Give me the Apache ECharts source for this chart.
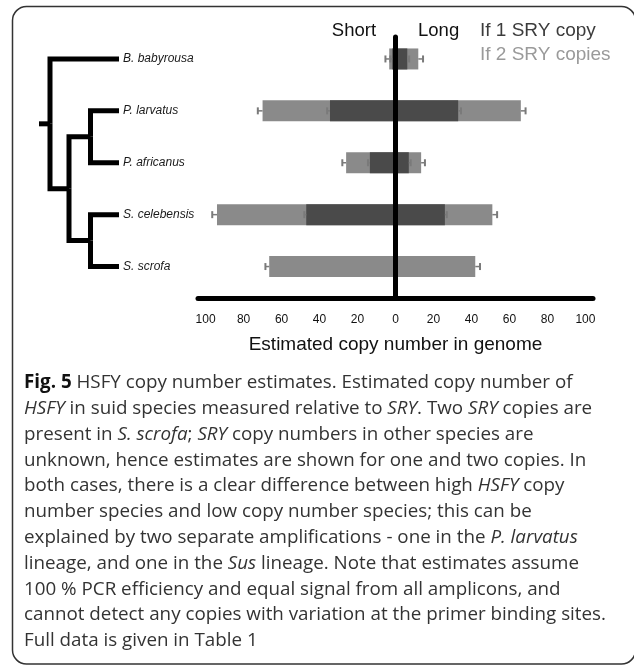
<!DOCTYPE html>
<html><head><meta charset="utf-8">
<script src="https://cdn.jsdelivr.net/npm/echarts@6/dist/echarts.min.js"></script>
<style>html,body{margin:0;padding:0;background:#fff}#c{width:634px;height:668px}</style>
</head><body><div id="c"></div>
<script>
// ---- data ----
const species = ['B. babyrousa', 'P. larvatus', 'P. africanus', 'S. celebensis', 'S. scrofa'];
const twoShort = [3.3, 70, 26, 94, 66.5];
const twoLong = [12, 66, 13.5, 51, 42];
const twoShortErr = [2, 2.5, 2, 2.5, 2];
const twoLongErr = [2.5, 2.5, 2, 2.5, 2.5];
const oneShort = [1.7, 34.5, 13.5, 47, null];
const oneLong = [6.2, 33, 7, 26, null];
const oneShortErr = [1, 1.5, 1, 1, null];
const oneLongErr = [1, 1.5, 1, 1, null];
const xTicks = [-100, -80, -60, -40, -20, 0, 20, 40, 60, 80, 100];
// cladogram: internal nodes, their branch positions, edges (numbers = leaf index)
const treeNodes = ['root', 'A', 'N2', 'NP', 'NS'];
const treeNodeX = [0, 1.1, 3, 5.15, 5.15];
const leafX = 8;
const treeEdges = [['root', 'A'], ['A', 0], ['A', 'N2'], ['N2', 'NP'], ['N2', 'NS'], ['NP', 1], ['NP', 2], ['NS', 3], ['NS', 4]];
const caption = [
  '{b|Fig. 5} HSFY copy number estimates. Estimated copy number of',
  '{i|HSFY} in suid species measured relative to {i|SRY}. Two {i|SRY} copies are',
  'present in {i|S. scrofa}; {i|SRY} copy numbers in other species are',
  'unknown, hence estimates are shown for one and two copies. In',
  'both cases, there is a clear difference between high {i|HSFY} copy',
  'number species and low copy number species; this can be',
  'explained by two separate amplifications - one in the {i|P. larvatus}',
  'lineage, and one in the {i|Sus} lineage. Note that estimates assume',
  '100 % PCR efficiency and equal signal from all amplicons, and',
  'cannot detect any copies with variation at the primer binding sites.',
  'Full data is given in Table 1'
];

// ---- helpers ----
function xOf(n) { return typeof n === 'number' ? leafX : treeNodeX[treeNodes.indexOf(n)]; }
function yOf(n) {
  if (typeof n === 'number') return n;
  const ch = treeEdges.filter(e => e[0] === n).map(e => yOf(e[1]));
  return ch.reduce((a, b) => a + b, 0) / ch.length;
}
const treeData = treeEdges.map(e => [xOf(e[0]), yOf(e[0]), xOf(e[1]), yOf(e[1])]);

const errData = [];
species.forEach((s, i) => {
  errData.push([-twoShort[i], -(twoShort[i] + twoShortErr[i]), i]);
  errData.push([twoLong[i], twoLong[i] + twoLongErr[i], i]);
  if (oneShort[i] != null) {
    errData.push([-oneShort[i], -(oneShort[i] + oneShortErr[i]), i]);
    errData.push([oneLong[i], oneLong[i] + oneLongErr[i], i]);
  }
});

const SANS = 'Liberation Sans, Arial, Helvetica, sans-serif';
const CAP = '"Open Sans", "Noto Sans", sans-serif';
const CAPSIZE = 18.8;
const LIGHT = '#8a8a8a', DARK = '#4a4a4a', ERR = '#7a7a7a';

const chart = echarts.init(document.getElementById('c'), null, { renderer: 'canvas' });
const barCommon = { type: 'bar', xAxisIndex: 0, yAxisIndex: 0, barWidth: 21, barGap: '-100%', silent: true };

chart.setOption({
  animation: false,
  grid: [
    { left: 198, right: 41, top: 33, bottom: 375.5 },
    { left: 39, right: 515, top: 33, bottom: 375.5 },
    { left: 198, right: 41, top: 37, bottom: 369.5 }
  ],
  xAxis: [
    { gridIndex: 0, type: 'value', min: -104, max: 104, show: false },
    { gridIndex: 1, type: 'value', min: 0, max: leafX, show: false },
    {
      gridIndex: 2, type: 'value', min: -104, max: 104, z: 10,
      axisLine: { show: true, onZero: false, lineStyle: { color: '#000', width: 5 } },
      axisTick: { show: false }, splitLine: { show: false },
      axisLabel: { customValues: xTicks, formatter: v => String(Math.abs(v)), fontSize: 12, color: '#111', fontFamily: SANS, margin: 15 },
      name: 'Estimated copy number in genome', nameLocation: 'middle', nameGap: 46,
      nameTextStyle: { fontSize: 19, color: '#111', fontFamily: SANS, verticalAlign: 'middle' }
    }
  ],
  yAxis: [
    {
      gridIndex: 0, type: 'category', data: species, inverse: true,
      axisLine: { show: false, onZero: false }, axisTick: { show: false }, splitLine: { show: false },
      axisLabel: { align: 'left', margin: 75, fontSize: 12, fontStyle: 'italic', color: '#1a1a1a', fontFamily: SANS }
    },
    { gridIndex: 1, type: 'value', min: -0.5, max: 4.5, inverse: true, show: false },
    {
      gridIndex: 2, type: 'value', min: 0, max: 1, z: 10,
      axisLine: { show: true, onZero: true, lineStyle: { color: '#000', width: 5 } },
      axisTick: { show: false }, axisLabel: { show: false }, splitLine: { show: false },
      name: '{s|Short}{g|}{l|Long}', nameLocation: 'end', nameGap: 6,
      nameTextStyle: {
        align: 'center', verticalAlign: 'middle',
        rich: {
          s: { fontSize: 18.5, fontFamily: SANS, color: '#111' },
          g: { width: 42 },
          l: { fontSize: 18.5, fontFamily: SANS, color: '#111' }
        }
      }
    }
  ],
  legend: {
    orient: 'vertical', left: 475, top: 19, padding: 0, itemWidth: 0, itemHeight: 0, itemGap: 0,
    selectedMode: false,
    textStyle: { fontSize: 19, fontFamily: SANS, lineHeight: 24 },
    data: [
      { name: 'If 1 SRY copy', textStyle: { color: '#3c3c3c' } },
      { name: 'If 2 SRY copies', textStyle: { color: '#9a9a9a' } }
    ]
  },
  series: [
    Object.assign({ name: 'If 2 SRY copies', data: twoShort.map(v => -v), itemStyle: { color: LIGHT } }, barCommon),
    Object.assign({ name: 'If 2 SRY copies', data: twoLong, itemStyle: { color: LIGHT } }, barCommon),
    Object.assign({ name: 'If 1 SRY copy', data: oneShort.map(v => v == null ? null : -v), itemStyle: { color: DARK } }, barCommon),
    Object.assign({ name: 'If 1 SRY copy', data: oneLong, itemStyle: { color: DARK } }, barCommon),
    {
      type: 'custom', xAxisIndex: 0, yAxisIndex: 0, z: 3, silent: true, clip: false,
      encode: { x: [0, 1], y: 2 }, data: errData,
      renderItem: function (params, api) {
        const a = api.coord([api.value(0), api.value(2)]);
        const b = api.coord([api.value(1), api.value(2)]);
        return {
          type: 'group', children: [
            { type: 'line', shape: { x1: a[0], y1: a[1], x2: b[0], y2: b[1] }, style: { stroke: ERR, lineWidth: 1.5 } },
            { type: 'line', shape: { x1: b[0], y1: b[1] - 3.5, x2: b[0], y2: b[1] + 3.5 }, style: { stroke: ERR, lineWidth: 2 } }
          ]
        };
      }
    },
    {
      type: 'custom', xAxisIndex: 1, yAxisIndex: 1, silent: true, clip: false,
      encode: { x: [0, 2], y: [1, 3] }, data: treeData,
      renderItem: function (params, api) {
        const p = api.coord([api.value(0), api.value(1)]);
        const m = api.coord([api.value(0), api.value(3)]);
        const c = api.coord([api.value(2), api.value(3)]);
        return { type: 'polyline', shape: { points: [p, m, c] }, style: { stroke: '#000', lineWidth: 5, fill: null, lineJoin: 'miter', lineCap: 'butt' } };
      }
    }
  ],
  graphic: [
    { type: 'rect', silent: true, shape: { x: 12.5, y: 6.5, width: 623, height: 657.5, r: 14 }, style: { fill: 'none', stroke: '#333', lineWidth: 1.5 } },
    {
      type: 'text', x: 24, y: 370, silent: true,
      style: {
        text: caption.join('\n'), fontSize: CAPSIZE, fontFamily: CAP, fill: '#333', lineHeight: 25.8,
        rich: {
          b: { fontSize: CAPSIZE, fontFamily: CAP, fontWeight: 'bold', fill: '#111', lineHeight: 25.8 },
          i: { fontSize: CAPSIZE, fontFamily: CAP, fontStyle: 'italic', fill: '#333', lineHeight: 25.8 }
        }
      }
    }
  ]
});
</script>
</body></html>
